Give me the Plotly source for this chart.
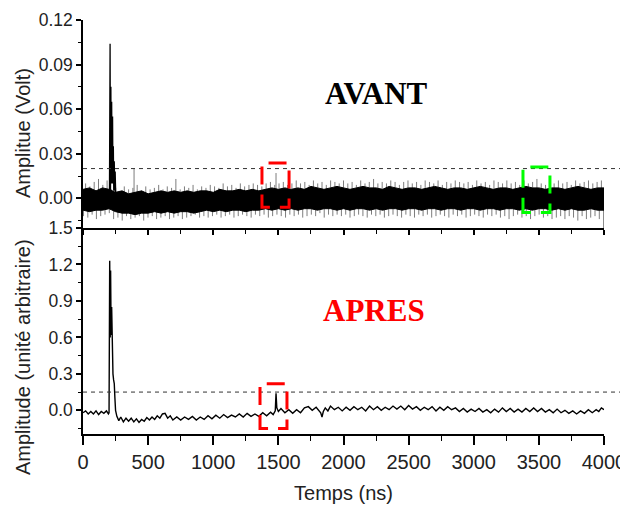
import plotly.graph_objects as go

# ---------------- data ----------------
# top panel "AVANT": noise band envelope sampled every 50 ns (volts)
band_x = list(range(0, 4001, 50))
band_upper = [6, 7, 5, 7, 6, 4, 5, 3, 4, 5, 3, 4, 5, 4, 5, 4, 5, 4, 5, 5,
              4, 6, 5, 5, 6, 5, 6, 5, 6, 7, 6, 7, 6, 7, 6, 8, 7, 6, 7, 8,
              7, 6, 7, 8, 7, 7, 6, 8, 7, 6, 7, 7, 6, 7, 8, 7, 6, 7, 7, 6,
              7, 8, 7, 6, 7, 7, 6, 7, 8, 7, 7, 6, 7, 7, 6, 7, 8, 7, 6, 7, 7]
band_lower = [-8, -9, -8, -8, -7, -9, -10, -10, -11, -10, -10, -9, -10, -9, -10, -9, -9, -10, -9, -8,
              -9, -8, -9, -8, -8, -9, -8, -8, -7, -8, -7, -8, -7, -8, -7, -7, -8, -7, -7, -8,
              -7, -8, -7, -7, -8, -7, -8, -7, -7, -8, -7, -7, -8, -7, -7, -8, -7, -7, -8, -7,
              -7, -8, -7, -7, -8, -7, -7, -8, -7, -8, -7, -7, -8, -7, -8, -7, -8, -8, -7, -8, -8]
band_upper = [v / 1000 for v in band_upper]
band_lower = [v / 1000 for v in band_lower]

# noise spikes beyond the band (grey fringe), sampled every 33 ns, in mV
spike_up_x = list(range(20, 4000, 33))
spike_up_y = [10, 8, 11, 13, 9, 12, 6, 7, 5, 8,
              6, 7, 9, 5, 8, 6, 7, 9, 6, 8,
              7, 13, 6, 8, 7, 9, 6, 8, 7, 9,
              8, 7, 10, 8, 9, 7, 10, 8, 9, 10,
              9, 8, 10, 11, 9, 10, 11, 9, 10, 12,
              10, 11, 9, 12, 10, 11, 9, 12, 11, 10,
              12, 10, 11, 9, 12, 10, 11, 13, 10, 11,
              10, 12, 11, 9, 11, 12, 10, 11, 9, 12,
              11, 10, 12, 9, 11, 10, 12, 11, 10, 11,
              9, 12, 10, 11, 9, 12, 11, 10, 12, 10,
              11, 9, 12, 10, 11, 13, 10, 9, 11, 10,
              12, 10, 11, 9, 12, 10, 11, 12, 10, 11,
              12]
spike_dn_x = list(range(4, 4000, 33))
spike_dn_y = [-12, -13, -11, -14, -12, -11, -10, -14, -13, -15,
              -12, -14, -13, -12, -15, -13, -12, -14, -13, -12,
              -14, -13, -12, -14, -13, -12, -11, -13, -12, -13,
              -12, -11, -13, -12, -11, -13, -12, -11, -12, -13,
              -11, -12, -11, -13, -12, -11, -12, -13, -11, -12,
              -11, -13, -12, -11, -12, -10, -13, -11, -12, -11,
              -12, -11, -13, -12, -11, -12, -13, -11, -12, -11,
              -13, -12, -11, -12, -13, -11, -12, -13, -11, -12,
              -11, -13, -12, -11, -12, -13, -11, -12, -11, -13,
              -12, -11, -12, -13, -11, -12, -11, -13, -12, -14,
              -12, -11, -13, -12, -14, -12, -11, -13, -12, -14,
              -13, -12, -14, -12, -13, -15, -12, -14, -13, -12,
              -14]
# notable isolated spikes
notable_x = [392, 1482, 3508]
notable_y = [-20, 20, 17]

# main pulse of the top panel
pulse_top_x = [198, 203, 208, 211, 214, 217, 220, 224, 227, 230, 233, 236, 240, 244, 247, 252]
pulse_top_y = [0.0, 0.0, 0.104, 0.0, 0.075, 0.01, 0.065, 0.01, 0.055, 0.01, 0.035, 0.005, 0.025, 0.005, 0.018, 0.0]

# bottom panel "APRES"
bot_pts = [
    (0, -0.02), (20, -0.005), (40, -0.03), (60, -0.01), (80, -0.03), (100, -0.005), (120, -0.035),
    (140, -0.01), (160, -0.025), (180, -0.005), (195, -0.03), (200, -0.02),
    (205, 1.23), (209, 0.6), (212, 1.15), (216, 0.62), (220, 0.85), (225, 0.5), (230, 0.3),
    (235, 0.25), (240, 0.22), (245, 0.1), (250, 0.0), (260, -0.05), (275, -0.085),
    (290, -0.055), (310, -0.095), (330, -0.065), (350, -0.09), (370, -0.065), (390, -0.095), (410, -0.07),
    (430, -0.1), (450, -0.075), (470, -0.09), (490, -0.06), (510, -0.08), (530, -0.055), (550, -0.075),
    (570, -0.045), (590, -0.065), (610, -0.03), (630, -0.025), (650, -0.065), (670, -0.045), (690, -0.08),
    (720, -0.055), (750, -0.08), (780, -0.055), (810, -0.075), (840, -0.05), (870, -0.08), (900, -0.055),
    (930, -0.075), (960, -0.045), (990, -0.07), (1020, -0.04), (1050, -0.065), (1080, -0.035), (1110, -0.06),
    (1140, -0.04), (1170, -0.055), (1200, -0.03), (1230, -0.055), (1260, -0.025), (1290, -0.05),
    (1320, -0.03), (1350, -0.05), (1380, -0.02), (1410, -0.045), (1440, -0.015), (1460, -0.035),
    (1470, -0.01), (1476, -0.005), (1482, 0.14), (1488, 0.02), (1500, -0.01), (1520, 0.015),
    (1550, -0.02), (1580, 0.005), (1610, -0.025), (1640, 0.005), (1670, -0.02), (1700, 0.02), (1730, 0.03),
    (1760, 0.0), (1790, 0.025), (1810, -0.005), (1825, -0.02), (1835, -0.055), (1845, -0.01), (1860, 0.02),
    (1880, -0.005), (1900, 0.035), (1930, 0.005), (1960, 0.025), (1990, -0.005), (2020, 0.025), (2050, 0.0),
    (2080, 0.03), (2110, 0.005), (2140, 0.025), (2170, -0.005), (2200, 0.035), (2230, 0.005), (2260, 0.03),
    (2290, 0.0), (2320, 0.025), (2350, 0.005), (2380, 0.035), (2410, 0.01), (2440, 0.035), (2470, 0.005),
    (2500, 0.04), (2530, 0.01), (2560, 0.03), (2590, 0.0), (2620, 0.025), (2650, 0.005), (2680, 0.03),
    (2710, -0.005), (2740, 0.025), (2770, 0.0), (2800, 0.03), (2830, 0.005), (2860, 0.02), (2890, -0.01),
    (2920, 0.015), (2950, -0.015), (2980, 0.01), (3010, -0.01), (3040, 0.015), (3070, -0.015), (3100, 0.005),
    (3130, -0.02), (3160, 0.01), (3190, -0.015), (3220, 0.02), (3250, -0.01), (3280, 0.015),
    (3310, -0.015), (3340, 0.01), (3370, -0.015), (3400, 0.015), (3430, -0.01), (3460, 0.02),
    (3490, -0.01), (3520, 0.015), (3550, -0.015), (3580, 0.005), (3610, -0.02), (3640, 0.01),
    (3670, -0.02), (3700, 0.0), (3730, -0.025), (3760, -0.005), (3790, -0.03), (3820, -0.005),
    (3850, -0.025), (3880, 0.005), (3910, -0.02), (3940, 0.005), (3960, -0.01), (3980, 0.02), (4000, 0.005),
]
bot_x = [p[0] for p in bot_pts]
bot_y = [p[1] for p in bot_pts]

threshold_top = 0.02
threshold_bot = 0.15
x_ticks = [0, 500, 1000, 1500, 2000, 2500, 3000, 3500, 4000]
y_top_ticks = [0.00, 0.03, 0.06, 0.09, 0.12]
y_top_labels = ["0.00", "0.03", "0.06", "0.09", "0.12"]
y_bot_ticks = [0.0, 0.3, 0.6, 0.9, 1.2, 1.5]
y_bot_labels = ["0.0", "0.3", "0.6", "0.9", "1.2", "1.5"]

# ---------------- figure ----------------
fig = go.Figure()

# spikes as vertical segments (drawn first, under the band)
sx, sy = [], []
for x, v in zip(spike_up_x + spike_dn_x + notable_x, spike_up_y + spike_dn_y + notable_y):
    sx += [x, x, None]
    sy += [0, v / 1000, None]
fig.add_trace(go.Scatter(x=sx, y=sy, mode="lines", line=dict(color="#6e6e6e", width=0.9),
                         xaxis="x", yaxis="y", showlegend=False, hoverinfo="skip"))

# noise band (filled black)
fig.add_trace(go.Scatter(x=band_x, y=band_lower, mode="lines", line=dict(color="black", width=1),
                         xaxis="x", yaxis="y", showlegend=False, hoverinfo="skip"))
fig.add_trace(go.Scatter(x=band_x, y=band_upper, mode="lines", line=dict(color="black", width=1),
                         fill="tonexty", fillcolor="black",
                         xaxis="x", yaxis="y", showlegend=False, hoverinfo="skip"))

fig.add_trace(go.Scatter(x=pulse_top_x, y=pulse_top_y, mode="lines", line=dict(color="black", width=1.3),
                         xaxis="x", yaxis="y", showlegend=False))

fig.add_trace(go.Scatter(x=bot_x, y=bot_y, mode="lines", line=dict(color="black", width=1.4),
                         xaxis="x2", yaxis="y2", showlegend=False))

font_sans = "Liberation Sans, Arial, sans-serif"
font_serif = "Liberation Serif, Times New Roman, serif"

axis_common = dict(showgrid=False, zeroline=False, showline=True, linecolor="black", linewidth=1.5,
                   ticks="outside", tickcolor="black", tickwidth=1.5, automargin=False)

split = 206 / 414

# the page body adds an 8 px offset, so the figure is 8 px smaller than the window
fig.update_layout(
    width=620, height=498,
    margin=dict(l=75, r=24, t=12, b=72, autoexpand=False),
    paper_bgcolor="white", plot_bgcolor="white",
    font=dict(family=font_sans, color="#222"),
    xaxis=dict(**axis_common, domain=[0, 1], anchor="y", range=[0, 4000],
               tickvals=x_ticks, showticklabels=False, ticklen=5,
               minor=dict(dtick=250, tick0=0, ticklen=4, ticks="outside", tickcolor="black", tickwidth=1.2)),
    yaxis=dict(**axis_common, domain=[split, 1], anchor="x", range=[-0.02, 0.12],
               tickvals=y_top_ticks, ticktext=y_top_labels, ticklen=5,
               tickfont=dict(size=17.5, color="#222"),
               minor=dict(dtick=0.015, tick0=0, ticklen=3, ticks="outside", tickcolor="black", tickwidth=1.2)),
    xaxis2=dict(**axis_common, domain=[0, 1], anchor="y2", range=[0, 4000],
                tickvals=x_ticks, ticklen=9, tickfont=dict(size=20, color="#222"),
                minor=dict(dtick=250, tick0=0, ticklen=5, ticks="outside", tickcolor="black", tickwidth=1.2),
                title=dict(text="Temps (ns)", font=dict(size=20, color="#222"), standoff=14)),
    yaxis2=dict(**axis_common, domain=[0, split], anchor="x2", range=[-0.195, 1.5],
                tickvals=y_bot_ticks, ticktext=y_bot_labels, ticklen=5,
                tickfont=dict(size=17.5, color="#222"),
                minor=dict(dtick=0.15, tick0=0, ticklen=3, ticks="outside", tickcolor="black", tickwidth=1.2)),
)

# y-axis titles (placed as in the original, not centred on the axes)
fig.add_annotation(text="Amplitue (Volt)", textangle=-90, xref="paper", yref="paper",
                   x=-0.115, y=(434 - 133) / 414, xanchor="center", yanchor="middle",
                   showarrow=False, font=dict(size=20, color="#222", family=font_sans))
fig.add_annotation(text="Amplitude (unité arbitraire)", textangle=-90, xref="paper", yref="paper",
                   x=-0.115, y=(434 - 357) / 414, xanchor="center", yanchor="middle",
                   showarrow=False, font=dict(size=20, color="#222", family=font_sans))

# panel labels
fig.add_annotation(text="<b>AVANT</b>", xref="paper", yref="paper", x=0.564, y=(434 - 93) / 414,
                   xanchor="center", yanchor="middle",
                   showarrow=False, font=dict(size=31, color="black", family=font_serif))
fig.add_annotation(text="<b>APRES</b>", xref="paper", yref="paper", x=0.559, y=(434 - 310) / 414,
                   xanchor="center", yanchor="middle",
                   showarrow=False, font=dict(size=31, color="#ff0000", family=font_serif))

# threshold dashed lines
fig.add_shape(type="line", xref="paper", yref="y", x0=0, x1=1.05, y0=threshold_top, y1=threshold_top,
              line=dict(color="#333", width=1, dash="4px,4px"))
fig.add_shape(type="line", xref="paper", yref="y2", x0=0, x1=1.05, y0=threshold_bot, y1=threshold_bot,
              line=dict(color="#333", width=1, dash="4px,4px"))

# highlight boxes (dashed rectangles)
def box(xr, yr, x0, x1, yb, ys, yt, color):
    path = f"M {x0},{ys} L {x0},{yb} L {x1},{yb} L {x1},{yt} L {x0},{yt} Z"
    fig.add_shape(type="path", path=path, xref=xr, yref=yr,
                  line=dict(color=color, width=3, dash="18px,10px"))

box("x", "y", 1374, 1582, -0.0061, 0.0007, 0.0237, "#ff0000")
box("x", "y", 3378, 3585, -0.0095, -0.0027, 0.0210, "#00ff00")
box("x2", "y2", 1359, 1566, -0.150, -0.068, 0.219, "#ff0000")

fig.write_html("out.html")
